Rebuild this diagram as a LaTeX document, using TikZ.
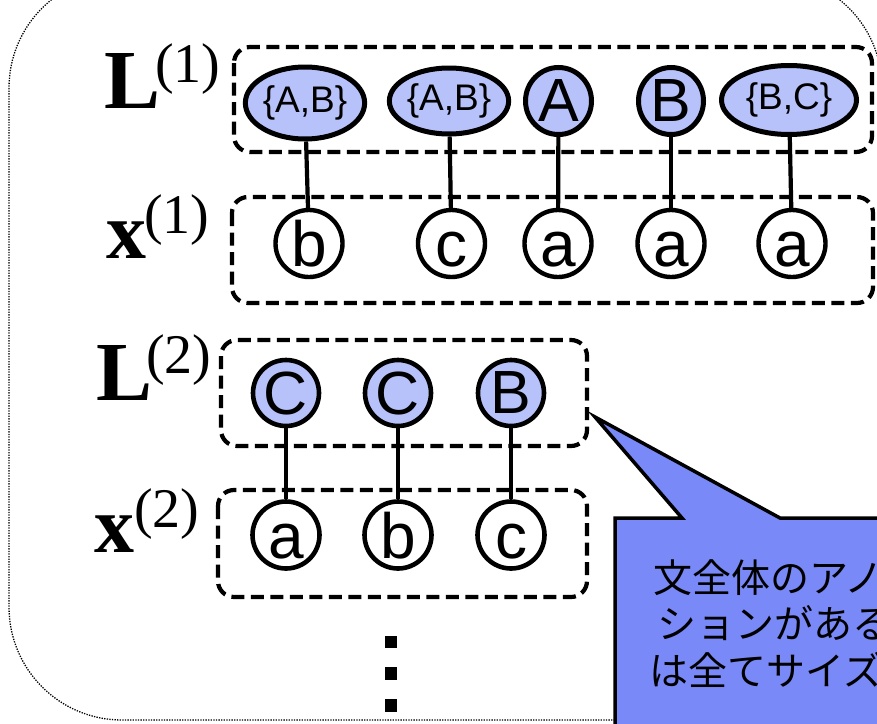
\documentclass[tikz,border=0pt]{standalone}
\usepackage{fontspec}
\setmainfont{Liberation Serif}
\newfontfamily\arialfont{Liberation Sans}
\newfontfamily\jpfont{Noto Sans CJK JP}
\usetikzlibrary{shapes.geometric}
\definecolor{labelblue}{RGB}{184,194,250}
\definecolor{calloutblue}{RGB}{122,137,248}

\begin{document}
\begin{tikzpicture}[x=1pt,y=-1pt,
  latent/.style={draw=black,line width=5pt,fill=labelblue,inner sep=0pt,
    font=\arialfont\fontsize{61}{61}\selectfont},
  setnode/.style={latent,ellipse,font=\arialfont\fontsize{37}{37}\selectfont},
  letter/.style={latent,circle,minimum size=66pt},
  obs/.style={draw=black,line width=4.4pt,fill=white,circle,minimum size=67pt,
    inner sep=0pt,text height=47pt,text depth=1pt,
    font=\arialfont\fontsize{64}{64}\selectfont},
  group/.style={draw=black,line width=4.2pt,dash pattern=on 13pt off 6.5pt,
    rounded corners=16pt},
  link/.style={draw=black,line width=4.2pt},
  varname/.style={anchor=base west,inner sep=0pt,font=\bfseries\fontsize{84}{84}\selectfont},
  varidx/.style={anchor=base west,inner sep=0pt,font=\fontsize{56}{56}\selectfont},
  calltext/.style={anchor=west,inner sep=0pt,font=\jpfont\fontsize{39}{39}\selectfont}
]
\useasboundingbox (0,0) rectangle (877,723);
\clip (0,0) rectangle (877,723);

% outer frame
\draw[line width=1.3pt,dash pattern=on 1.3pt off 1.3pt,rounded corners=113pt]
  (9,-25) rectangle (882,720);

% group frames
\draw[group] (234,47) rectangle (872,152);
\draw[group] (232,197) rectangle (873,303);
\draw[group] (221,340) rectangle (587,446);
\draw[group] (218,490) rectangle (587,597);

% row labels
\node[varname] (Lone) at (104,108) {L};
\node[varidx] (Loneidx) at (155,82) {(1)};
\node[varname,font=\bfseries\fontsize{80}{80}\selectfont] (xone) at (106,258) {x};
\node[varidx] (xoneidx) at (144,233) {(1)};
\node[varname] (Ltwo) at (96,400) {L};
\node[varidx] (Ltwoidx) at (146,373) {(2)};
\node[varname,font=\bfseries\fontsize{80}{80}\selectfont] (xtwo) at (94,552) {x};
\node[varidx] (xtwoidx) at (134,527) {(2)};

% first sentence: labels
\node[setnode,minimum width=104pt,minimum height=72pt] (l11) at (305,103) {\{A,B\}};
\node[setnode,minimum width=119pt,minimum height=66pt] (l12) at (449,101) {\{A,B\}};
\node[letter,minimum width=66pt,minimum height=67pt,ellipse] (l13) at (558.5,101) {A};
\node[letter,minimum width=65pt,minimum height=67pt,ellipse] (l14) at (671,101) {B};
\node[setnode,minimum width=135pt,minimum height=69pt] (l15) at (789,100) {\{B,C\}};

% first sentence: tokens
\node[obs] (x11) at (309,243.5) {b};
\node[obs] (x12) at (451.5,243.5) {c};
\node[obs] (x13) at (558,243.5) {a};
\node[obs] (x14) at (671,243.5) {a};
\node[obs] (x15) at (792,243.5) {a};

% second sentence: labels
\node[letter,line width=4.6pt] (l21) at (286,393) {C};
\node[letter,line width=4.6pt] (l22) at (398,393) {C};
\node[letter,line width=4.6pt] (l23) at (511,393) {B};

% second sentence: tokens
\node[obs,line width=4.6pt] (x21) at (286,535) {a};
\node[obs,line width=4.6pt] (x22) at (398,535) {b};
\node[obs,line width=4.6pt] (x23) at (511,535) {c};

% links
\draw[link] (l11) -- (x11);
\draw[link] (l12) -- (x12);
\draw[link] (l13) -- (x13);
\draw[link] (l14) -- (x14);
\draw[link] (l15) -- (x15);
\draw[link] (l21) -- (x21);
\draw[link] (l22) -- (x22);
\draw[link] (l23) -- (x23);

% vertical ellipsis
\fill (385,636) rectangle (397,648);
\fill (385,667) rectangle (397,680);
\fill (385,699) rectangle (397,712);

% callout
\coordinate (tip) at (595,417);
\draw[line width=3.5pt,fill=calloutblue,line join=miter]
  (615,518) -- (682,518) -- (tip) -- (780,518) -- (960,518)
  -- (960,800) -- (615,800) -- cycle;
\node[calltext] (c1) at (653,578) {文全体のアノ};
\node[calltext] (c2) at (657,623) {ションがある};
\node[calltext] (c3) at (649,670) {は全てサイズ};
\end{tikzpicture}
\end{document}
